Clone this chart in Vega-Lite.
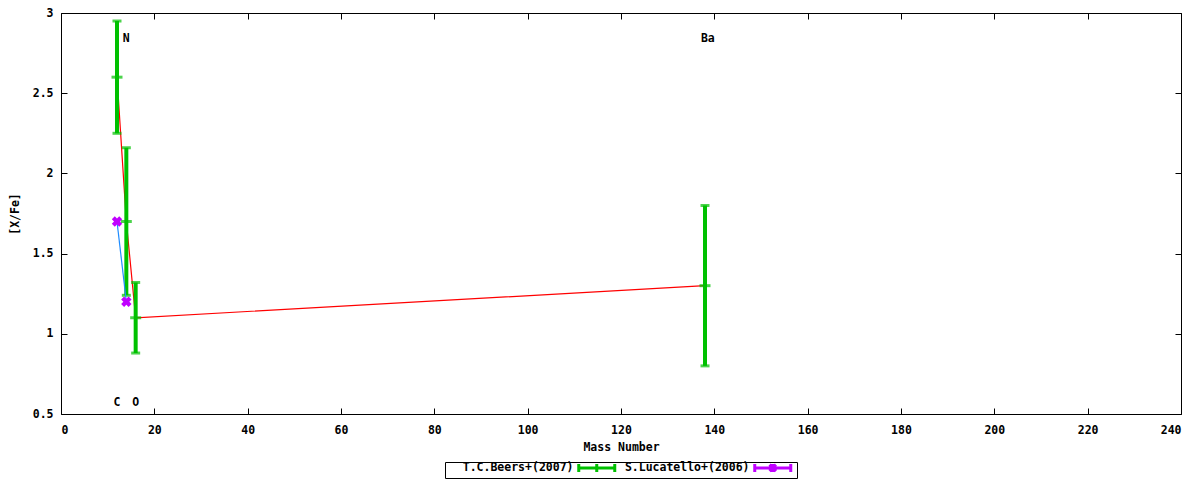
{
  "$schema": "https://vega.github.io/schema/vega-lite/v6.json",
  "width": 1120,
  "height": 401,
  "autosize": {"type": "none"},
  "padding": {"left": 61, "top": 13, "right": 19, "bottom": 66},
  "background": "white",
  "config": {
    "view": {"stroke": "black", "strokeWidth": 1},
    "font": "DejaVu Sans Mono",
    "axis": {
      "labelFont": "DejaVu Sans Mono",
      "labelFontWeight": "bold",
      "labelFontSize": 11.5,
      "labelColor": "black",
      "titleFont": "DejaVu Sans Mono",
      "titleFontWeight": "bold",
      "titleFontSize": 11.5,
      "titleColor": "black",
      "tickColor": "black",
      "tickSize": -6,
      "tickWidth": 1,
      "domain": false,
      "grid": false
    },
    "legend": {
      "labelFont": "DejaVu Sans Mono",
      "labelFontWeight": "bold",
      "labelFontSize": 11.5,
      "labelColor": "black",
      "layout": {"bottom": {"anchor": "middle"}}
    }
  },
  "datasets": {
    "beers": [
      {"element": "C", "mass": 12, "xfe": 2.6, "lo": 2.25, "hi": 2.95, "series": "T.C.Beers+(2007)"},
      {"element": "N", "mass": 14, "xfe": 1.7, "lo": 1.24, "hi": 2.16, "series": "T.C.Beers+(2007)"},
      {"element": "O", "mass": 16, "xfe": 1.1, "lo": 0.88, "hi": 1.32, "series": "T.C.Beers+(2007)"},
      {"element": "Ba", "mass": 138, "xfe": 1.3, "lo": 0.8, "hi": 1.8, "series": "T.C.Beers+(2007)"}
    ],
    "lucatello": [
      {"element": "C", "mass": 12, "xfe": 1.7, "series": "S.Lucatello+(2006)"},
      {"element": "N", "mass": 14, "xfe": 1.2, "series": "S.Lucatello+(2006)"}
    ],
    "labels": [
      {"label": "N", "mass": 14, "xfe": 2.84},
      {"label": "Ba", "mass": 138.6, "xfe": 2.84},
      {"label": "C", "mass": 12, "xfe": 0.57},
      {"label": "O", "mass": 16, "xfe": 0.57}
    ]
  },
  "resolve": {"axis": {"x": "independent", "y": "independent"}},
  "layer": [
    {
      "data": {"name": "beers"},
      "mark": {"type": "line", "color": "#ff0000", "strokeWidth": 1.2},
      "encoding": {
        "x": {"field": "mass", "type": "quantitative", "scale": {"domain": [0, 240], "nice": false, "zero": false},
              "axis": {"orient": "bottom", "title": "Mass Number", "values": [0, 20, 40, 60, 80, 100, 120, 140, 160, 180, 200, 220, 240], "labelPadding": 16, "titlePadding": 6}},
        "y": {"field": "xfe", "type": "quantitative", "scale": {"domain": [0.5, 3], "nice": false, "zero": false},
              "axis": {"orient": "left", "title": "[X/Fe]", "values": [0.5, 1, 1.5, 2, 2.5, 3], "format": "~g", "labelPadding": 14, "titlePadding": 12}},
        "order": {"field": "mass", "type": "quantitative"}
      }
    },
    {
      "data": {"name": "beers"},
      "mark": {"type": "rule", "strokeWidth": 4},
      "encoding": {
        "x": {"field": "mass", "type": "quantitative", "axis": null},
        "y": {"field": "lo", "type": "quantitative", "axis": null},
        "y2": {"field": "hi"},
        "color": {"field": "series", "type": "nominal",
                  "scale": {"domain": ["T.C.Beers+(2007)", "S.Lucatello+(2006)"], "range": ["#00c000", "#c000ff"]},
                  "legend": {"orient": "bottom", "direction": "horizontal", "title": null,
                             "symbolType": "M-4.5,0H4.5M-4.5,-1V1M4.5,-1V1M0,-1V1",
                             "symbolSize": 64, "symbolStrokeWidth": 3, "symbolOffset": 146,
                             "labelAlign": "right", "labelOffset": -29, "columnPadding": -6,
                             "strokeColor": "black", "padding": 0, "offset": 9,
                             "encode": {"symbols": {"update": {
                               "fill": {"value": "transparent"},
                               "stroke": {"scale": "color", "field": "value"},
                               "shape": {"signal": "datum.value == 'S.Lucatello+(2006)' ? 'M-4.5,0H4.5M-4.5,-1V1M4.5,-1V1M0,-1V1M-0.8,-0.8L0.8,0.8M-0.8,0.8L0.8,-0.8' : 'M-4.5,0H4.5M-4.5,-1V1M4.5,-1V1M0,-1V1'"}
                             }}}}}
      }
    },
    {
      "data": {"name": "beers"},
      "mark": {"type": "tick", "orient": "horizontal", "size": 9, "thickness": 3, "color": "#00c000"},
      "encoding": {
        "x": {"field": "mass", "type": "quantitative", "axis": null},
        "y": {"field": "lo", "type": "quantitative", "axis": null}
      }
    },
    {
      "data": {"name": "beers"},
      "mark": {"type": "tick", "orient": "horizontal", "size": 9, "thickness": 3, "color": "#00c000"},
      "encoding": {
        "x": {"field": "mass", "type": "quantitative", "axis": null},
        "y": {"field": "hi", "type": "quantitative", "axis": null}
      }
    },
    {
      "data": {"name": "beers"},
      "mark": {"type": "tick", "orient": "horizontal", "size": 11, "thickness": 3, "color": "#00c000"},
      "encoding": {
        "x": {"field": "mass", "type": "quantitative", "axis": null},
        "y": {"field": "xfe", "type": "quantitative", "axis": null}
      }
    },
    {
      "data": {"name": "lucatello"},
      "mark": {"type": "line", "color": "#1e8cff", "strokeWidth": 1.2},
      "encoding": {
        "x": {"field": "mass", "type": "quantitative", "axis": null},
        "y": {"field": "xfe", "type": "quantitative", "axis": null},
        "order": {"field": "mass", "type": "quantitative"}
      }
    },
    {
      "data": {"name": "lucatello"},
      "mark": {"type": "point", "shape": "cross", "angle": 45, "filled": true, "size": 110, "opacity": 1},
      "encoding": {
        "x": {"field": "mass", "type": "quantitative", "axis": null},
        "y": {"field": "xfe", "type": "quantitative", "axis": null},
        "color": {"field": "series", "type": "nominal"}
      }
    },
    {
      "data": {"name": "labels"},
      "mark": {"type": "text", "font": "DejaVu Sans Mono", "fontWeight": "bold", "fontSize": 11.5, "color": "black", "align": "center", "baseline": "middle"},
      "encoding": {
        "x": {"field": "mass", "type": "quantitative", "axis": {"orient": "top", "labels": false, "title": null, "values": [0, 20, 40, 60, 80, 100, 120, 140, 160, 180, 200, 220, 240]}},
        "y": {"field": "xfe", "type": "quantitative", "axis": {"orient": "right", "labels": false, "title": null, "values": [0.5, 1, 1.5, 2, 2.5, 3]}},
        "text": {"field": "label"}
      }
    }
  ]
}
